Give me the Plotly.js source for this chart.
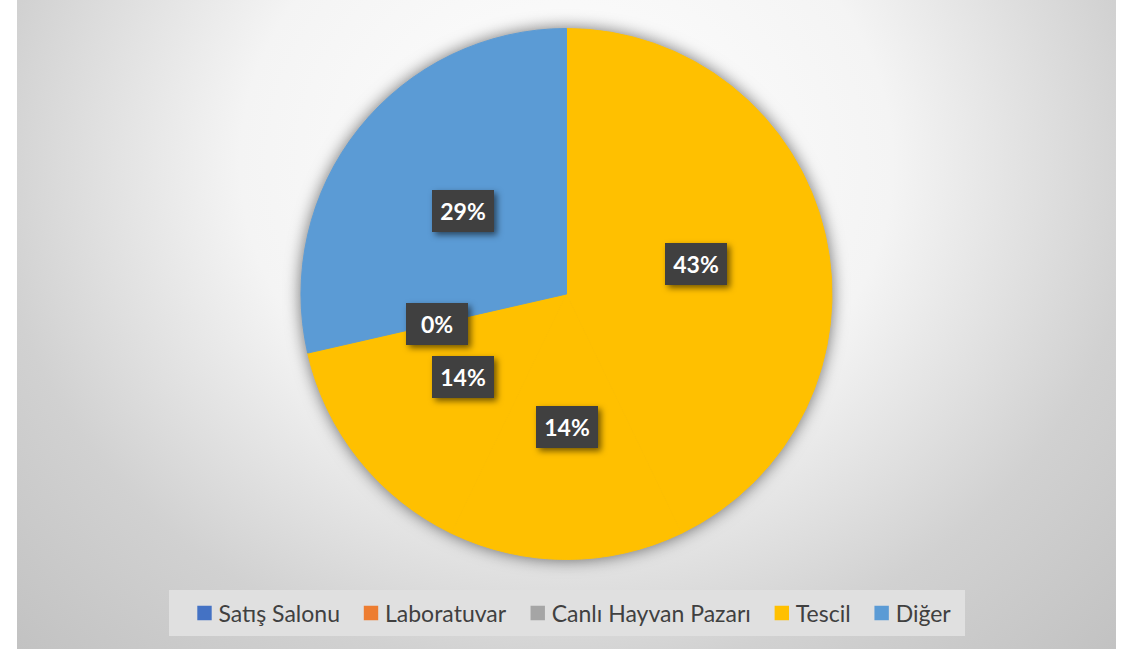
<!DOCTYPE html>
<html>
<head>
<meta charset="utf-8">
<script src="https://cdn.plot.ly/plotly-3.0.1.min.js"></script>
<style>
  html, body { margin: 0; padding: 0; background: #ffffff; width: 1135px; height: 652px; overflow: hidden; }
  #bg {
    position: absolute; left: 17px; top: 0px; width: 1099px; height: 649px;
    background: radial-gradient(ellipse farthest-corner at 50% 25%, #ffffff 0%, #f4f4f4 42%, #d1d1d1 74%, #c2c2c2 100%);
  }
  #chart { position: absolute; left: 0; top: 0; width: 1135px; height: 652px; }
</style>
</head>
<body>
<div id="bg"></div>
<div id="chart"></div>
<script>
// ---- data ----
var categories = ["Satış Salonu", "Laboratuvar", "Canlı Hayvan Pazarı", "Tescil", "Diğer"];
var values = [3, 1, 1, 0, 2];
var legendColors = ["#4472C4", "#ED7D31", "#A5A5A5", "#FFC000", "#5B9BD5"];
var sliceColors = ["#FFC000", "#FFC000", "#FFC000", "#FFC000", "#5B9BD5"];

// ---- layout geometry ----
var W = 1135, H = 652;
var pieDomain = { x: [301 / W, 832 / W], y: [1 - 560 / H, 1 - 28 / H] };

var total = values.reduce(function (a, b) { return a + b; }, 0);
var pctLabels = values.map(function (v) { return Math.round(100 * v / total) + "%"; });

// visible pie
var pieMain = {
  type: "pie",
  labels: categories,
  values: values,
  sort: false,
  direction: "clockwise",
  rotation: 0,
  marker: { colors: sliceColors, line: { width: 1, color: sliceColors } },
  textinfo: "none",
  hoverinfo: "none",
  showlegend: false,
  domain: pieDomain
};

// legend carrier (tiny, hidden under the main pie)
var cxp = (pieDomain.x[0] + pieDomain.x[1]) / 2;
var cyp = (pieDomain.y[0] + pieDomain.y[1]) / 2;
var pieLegend = {
  type: "pie",
  labels: categories,
  values: values,
  sort: false,
  direction: "clockwise",
  marker: { colors: legendColors, line: { width: 0 } },
  textinfo: "none",
  hoverinfo: "none",
  showlegend: true,
  domain: { x: [cxp - 0.0003, cxp + 0.0003], y: [cyp - 0.0003, cyp + 0.0003] }
};

// data-label annotations at half radius, mid-angle of each slice
var Rpx = Math.min((pieDomain.x[1] - pieDomain.x[0]) * W, (pieDomain.y[1] - pieDomain.y[0]) * H) / 2;
var annotations = [];
var cum = 0;
for (var i = 0; i < values.length; i++) {
  var mid = (cum + values[i] / 2) / total * 2 * Math.PI;
  cum += values[i];
  var ax = cxp + 0.5 * Rpx * Math.sin(mid) / W;
  var ay = cyp + 0.5 * Rpx * Math.cos(mid) / H;
  annotations.push({
    xref: "paper", yref: "paper", x: ax, y: ay,
    xanchor: "center", yanchor: "middle",
    text: "<b>" + pctLabels[i] + "</b>",
    showarrow: false,
    font: { family: "Lato, 'Open Sans', sans-serif", size: 23, color: "#ffffff" },
    bgcolor: "#404040",
    borderwidth: 0, borderpad: 0,
    width: 62, height: 42
  });
}

var layout = {
  width: W, height: H,
  margin: { l: 0, r: 0, t: 0, b: 0, pad: 0 },
  paper_bgcolor: "rgba(0,0,0,0)",
  plot_bgcolor: "rgba(0,0,0,0)",
  showlegend: true,
  legend: {
    orientation: "h",
    x: 0.5, xanchor: "center",
    y: 1 - 613 / H, yanchor: "middle",
    bgcolor: "rgba(0,0,0,0)",
    borderwidth: 0,
    font: { family: "Lato, 'Open Sans', sans-serif", size: 23, color: "#404040" },
    itemclick: false, itemdoubleclick: false
  },
  shapes: [{
    type: "rect", xref: "paper", yref: "paper", layer: "below",
    x0: 169 / W, x1: 965 / W, y0: 1 - 636 / H, y1: 1 - 590 / H,
    fillcolor: "#e0e0e0", line: { width: 0 }
  }],
  annotations: annotations
};

Plotly.newPlot("chart", [pieMain, pieLegend], layout, { displayModeBar: false, staticPlot: true }).then(function () {
  var traces = document.querySelectorAll("#chart .pielayer .trace");
  if (traces.length) {
    traces[0].style.filter = "drop-shadow(0px 0px 8px rgba(0,0,0,0.55))";
  }
  var rects = document.querySelectorAll("#chart g.annotation rect.bg");
  rects.forEach(function (r) {
    r.style.filter = "drop-shadow(3px 3px 3px rgba(0,0,0,0.55))";
  });
  // larger legend squares, closer to their text
  var pts = document.querySelectorAll("#chart .legend .legendpoints path");
  pts.forEach(function (p) {
    var t = p.getAttribute("transform") || "";
    p.setAttribute("transform", t + " translate(6,0) scale(1.2)");
    p.style.strokeWidth = "0";
  });
});
</script>
</body>
</html>
